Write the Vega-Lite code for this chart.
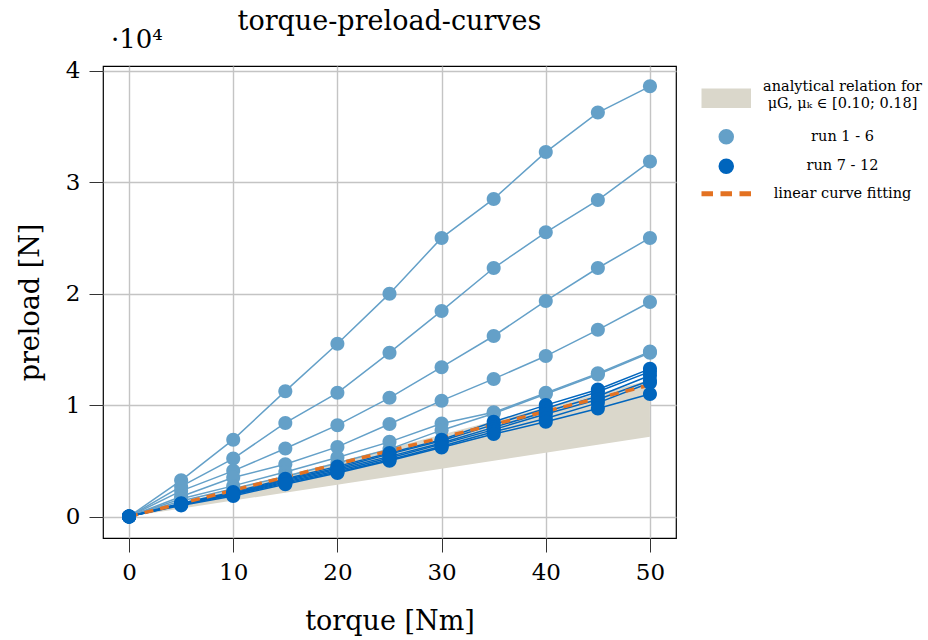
{
  "$schema": "https://vega.github.io/schema/vega-lite/v6.json",
  "width": 573,
  "height": 472,
  "autosize": {"type": "none"},
  "padding": {"left": 103, "top": 66, "right": 252, "bottom": 102},
  "background": "white",
  "title": {"text": "torque-preload-curves", "font": "DejaVu Serif", "fontSize": 27, "fontWeight": "normal", "color": "black", "anchor": "middle", "offset": -9},
  "config": {
    "view": {"stroke": "black", "strokeWidth": 1.2},
    "axis": {"domain": false, "grid": true, "gridColor": "#c4c4c4", "gridWidth": 1.4, "tickColor": "#333333", "tickSize": 14, "tickWidth": 1, "labelFont": "DejaVu Serif", "labelFontSize": 23, "labelColor": "black", "titleFont": "DejaVu Serif", "titleFontSize": 27, "titleFontWeight": "normal", "titleColor": "black"}
  },
  "datasets": {
    "runs": [
      {"run":1,"series":"run 1 - 6","torque":0,"preload":0},{"run":1,"series":"run 1 - 6","torque":5,"preload":3250},{"run":1,"series":"run 1 - 6","torque":10,"preload":6900},{"run":1,"series":"run 1 - 6","torque":15,"preload":11250},{"run":1,"series":"run 1 - 6","torque":20,"preload":15500},{"run":1,"series":"run 1 - 6","torque":25,"preload":20000},{"run":1,"series":"run 1 - 6","torque":30,"preload":25000},{"run":1,"series":"run 1 - 6","torque":35,"preload":28500},{"run":1,"series":"run 1 - 6","torque":40,"preload":32700},{"run":1,"series":"run 1 - 6","torque":45,"preload":36250},{"run":1,"series":"run 1 - 6","torque":50,"preload":38600},
      {"run":2,"series":"run 1 - 6","torque":0,"preload":0},{"run":2,"series":"run 1 - 6","torque":5,"preload":2700},{"run":2,"series":"run 1 - 6","torque":10,"preload":5200},{"run":2,"series":"run 1 - 6","torque":15,"preload":8400},{"run":2,"series":"run 1 - 6","torque":20,"preload":11100},{"run":2,"series":"run 1 - 6","torque":25,"preload":14700},{"run":2,"series":"run 1 - 6","torque":30,"preload":18450},{"run":2,"series":"run 1 - 6","torque":35,"preload":22300},{"run":2,"series":"run 1 - 6","torque":40,"preload":25500},{"run":2,"series":"run 1 - 6","torque":45,"preload":28400},{"run":2,"series":"run 1 - 6","torque":50,"preload":31850},
      {"run":3,"series":"run 1 - 6","torque":0,"preload":0},{"run":3,"series":"run 1 - 6","torque":5,"preload":2300},{"run":3,"series":"run 1 - 6","torque":10,"preload":4100},{"run":3,"series":"run 1 - 6","torque":15,"preload":6100},{"run":3,"series":"run 1 - 6","torque":20,"preload":8200},{"run":3,"series":"run 1 - 6","torque":25,"preload":10650},{"run":3,"series":"run 1 - 6","torque":30,"preload":13400},{"run":3,"series":"run 1 - 6","torque":35,"preload":16200},{"run":3,"series":"run 1 - 6","torque":40,"preload":19350},{"run":3,"series":"run 1 - 6","torque":45,"preload":22300},{"run":3,"series":"run 1 - 6","torque":50,"preload":25000},
      {"run":4,"series":"run 1 - 6","torque":0,"preload":0},{"run":4,"series":"run 1 - 6","torque":5,"preload":1800},{"run":4,"series":"run 1 - 6","torque":10,"preload":3500},{"run":4,"series":"run 1 - 6","torque":15,"preload":4700},{"run":4,"series":"run 1 - 6","torque":20,"preload":6250},{"run":4,"series":"run 1 - 6","torque":25,"preload":8300},{"run":4,"series":"run 1 - 6","torque":30,"preload":10400},{"run":4,"series":"run 1 - 6","torque":35,"preload":12350},{"run":4,"series":"run 1 - 6","torque":40,"preload":14400},{"run":4,"series":"run 1 - 6","torque":45,"preload":16750},{"run":4,"series":"run 1 - 6","torque":50,"preload":19250},
      {"run":5,"series":"run 1 - 6","torque":0,"preload":0},{"run":5,"series":"run 1 - 6","torque":5,"preload":1600},{"run":5,"series":"run 1 - 6","torque":10,"preload":2750},{"run":5,"series":"run 1 - 6","torque":15,"preload":4000},{"run":5,"series":"run 1 - 6","torque":20,"preload":5300},{"run":5,"series":"run 1 - 6","torque":25,"preload":6700},{"run":5,"series":"run 1 - 6","torque":30,"preload":8350},{"run":5,"series":"run 1 - 6","torque":35,"preload":9350},{"run":5,"series":"run 1 - 6","torque":40,"preload":11100},{"run":5,"series":"run 1 - 6","torque":45,"preload":12850},{"run":5,"series":"run 1 - 6","torque":50,"preload":14800},
      {"run":6,"series":"run 1 - 6","torque":0,"preload":0},{"run":6,"series":"run 1 - 6","torque":5,"preload":1400},{"run":6,"series":"run 1 - 6","torque":10,"preload":2500},{"run":6,"series":"run 1 - 6","torque":15,"preload":3600},{"run":6,"series":"run 1 - 6","torque":20,"preload":4800},{"run":6,"series":"run 1 - 6","torque":25,"preload":6050},{"run":6,"series":"run 1 - 6","torque":30,"preload":7750},{"run":6,"series":"run 1 - 6","torque":35,"preload":9250},{"run":6,"series":"run 1 - 6","torque":40,"preload":11000},{"run":6,"series":"run 1 - 6","torque":45,"preload":12750},{"run":6,"series":"run 1 - 6","torque":50,"preload":14700},
      {"run":7,"series":"run 7 - 12","torque":0,"preload":0},{"run":7,"series":"run 7 - 12","torque":5,"preload":1200},{"run":7,"series":"run 7 - 12","torque":10,"preload":2200},{"run":7,"series":"run 7 - 12","torque":15,"preload":3400},{"run":7,"series":"run 7 - 12","torque":20,"preload":4500},{"run":7,"series":"run 7 - 12","torque":25,"preload":5700},{"run":7,"series":"run 7 - 12","torque":30,"preload":6900},{"run":7,"series":"run 7 - 12","torque":35,"preload":8500},{"run":7,"series":"run 7 - 12","torque":40,"preload":10000},{"run":7,"series":"run 7 - 12","torque":45,"preload":11400},{"run":7,"series":"run 7 - 12","torque":50,"preload":13250},
      {"run":8,"series":"run 7 - 12","torque":0,"preload":0},{"run":8,"series":"run 7 - 12","torque":5,"preload":1150},{"run":8,"series":"run 7 - 12","torque":10,"preload":2100},{"run":8,"series":"run 7 - 12","torque":15,"preload":3300},{"run":8,"series":"run 7 - 12","torque":20,"preload":4350},{"run":8,"series":"run 7 - 12","torque":25,"preload":5600},{"run":8,"series":"run 7 - 12","torque":30,"preload":6800},{"run":8,"series":"run 7 - 12","torque":35,"preload":8250},{"run":8,"series":"run 7 - 12","torque":40,"preload":9700},{"run":8,"series":"run 7 - 12","torque":45,"preload":11200},{"run":8,"series":"run 7 - 12","torque":50,"preload":13000},
      {"run":9,"series":"run 7 - 12","torque":0,"preload":0},{"run":9,"series":"run 7 - 12","torque":5,"preload":1100},{"run":9,"series":"run 7 - 12","torque":10,"preload":2050},{"run":9,"series":"run 7 - 12","torque":15,"preload":3200},{"run":9,"series":"run 7 - 12","torque":20,"preload":4250},{"run":9,"series":"run 7 - 12","torque":25,"preload":5400},{"run":9,"series":"run 7 - 12","torque":30,"preload":6600},{"run":9,"series":"run 7 - 12","torque":35,"preload":8000},{"run":9,"series":"run 7 - 12","torque":40,"preload":9400},{"run":9,"series":"run 7 - 12","torque":45,"preload":10800},{"run":9,"series":"run 7 - 12","torque":50,"preload":12650},
      {"run":10,"series":"run 7 - 12","torque":0,"preload":0},{"run":10,"series":"run 7 - 12","torque":5,"preload":1100},{"run":10,"series":"run 7 - 12","torque":10,"preload":2000},{"run":10,"series":"run 7 - 12","torque":15,"preload":3100},{"run":10,"series":"run 7 - 12","torque":20,"preload":4100},{"run":10,"series":"run 7 - 12","torque":25,"preload":5250},{"run":10,"series":"run 7 - 12","torque":30,"preload":6500},{"run":10,"series":"run 7 - 12","torque":35,"preload":7800},{"run":10,"series":"run 7 - 12","torque":40,"preload":9200},{"run":10,"series":"run 7 - 12","torque":45,"preload":10500},{"run":10,"series":"run 7 - 12","torque":50,"preload":12200},
      {"run":11,"series":"run 7 - 12","torque":0,"preload":0},{"run":11,"series":"run 7 - 12","torque":5,"preload":1050},{"run":11,"series":"run 7 - 12","torque":10,"preload":1950},{"run":11,"series":"run 7 - 12","torque":15,"preload":3000},{"run":11,"series":"run 7 - 12","torque":20,"preload":4000},{"run":11,"series":"run 7 - 12","torque":25,"preload":5100},{"run":11,"series":"run 7 - 12","torque":30,"preload":6300},{"run":11,"series":"run 7 - 12","torque":35,"preload":7600},{"run":11,"series":"run 7 - 12","torque":40,"preload":8800},{"run":11,"series":"run 7 - 12","torque":45,"preload":10200},{"run":11,"series":"run 7 - 12","torque":50,"preload":12000},
      {"run":12,"series":"run 7 - 12","torque":0,"preload":0},{"run":12,"series":"run 7 - 12","torque":5,"preload":1000},{"run":12,"series":"run 7 - 12","torque":10,"preload":1850},{"run":12,"series":"run 7 - 12","torque":15,"preload":2900},{"run":12,"series":"run 7 - 12","torque":20,"preload":3900},{"run":12,"series":"run 7 - 12","torque":25,"preload":5000},{"run":12,"series":"run 7 - 12","torque":30,"preload":6200},{"run":12,"series":"run 7 - 12","torque":35,"preload":7400},{"run":12,"series":"run 7 - 12","torque":40,"preload":8500},{"run":12,"series":"run 7 - 12","torque":45,"preload":9700},{"run":12,"series":"run 7 - 12","torque":50,"preload":11000}
    ],
    "band": [
      {"series": "band", "torque": 0, "lo": 0, "hi": 0},
      {"series": "band", "torque": 50, "lo": 7150, "hi": 12250}
    ],
    "fit": [
      {"series": "fit", "torque": 0, "preload": 0},
      {"series": "fit", "torque": 50, "preload": 11800}
    ]
  },
  "layer": [
    {
      "data": {"name": "band"},
      "mark": {"type": "area", "opacity": 1},
      "encoding": {
        "x": {"field": "torque", "type": "quantitative", "scale": {"domain": [-2.5, 52.5], "nice": false, "zero": false},
              "axis": {"values": [0, 10, 20, 30, 40, 50], "title": "torque [Nm]", "labelPadding": 9, "titlePadding": 24}},
        "y": {"field": "lo", "type": "quantitative", "scale": {"domain": [-1925, 40425], "nice": false, "zero": false},
              "axis": {"values": [0, 10000, 20000, 30000, 40000], "labelExpr": "datum.value / 10000", "title": "preload [N]", "labelPadding": 9, "titlePadding": 21}},
        "y2": {"field": "hi"},
        "color": {"field": "series", "type": "nominal",
          "scale": {"domain": ["band", "run 1 - 6", "run 7 - 12", "fit"], "range": ["#DAD7CB", "#64A0C8", "#0065BD", "#E37222"]},
          "legend": {
            "title": null, "orient": "none", "legendX": 596, "legendY": 14,
            "symbolSize": 64, "symbolOffset": 20,
            "labelFont": "DejaVu Serif", "labelFontSize": 14.5, "labelColor": "black", "labelAlign": "center", "labelOffset": 109, "labelLimit": 400,
            "rowPadding": 8.5,
            "labelExpr": "datum.value === 'band' ? ['analytical relation for', 'μG, μₖ ∈ [0.10; 0.18]'] : datum.value === 'fit' ? 'linear curve fitting' : datum.value"
          }
        }
      }
    },
    {
      "data": {"name": "runs"},
      "mark": {"type": "line", "strokeWidth": 1.5},
      "encoding": {
        "x": {"field": "torque", "type": "quantitative"},
        "y": {"field": "preload", "type": "quantitative"},
        "color": {"field": "series", "type": "nominal"},
        "detail": {"field": "run", "type": "nominal"}
      }
    },
    {
      "data": {"name": "fit"},
      "mark": {"type": "line", "strokeWidth": 3.5, "strokeDash": [9, 7]},
      "encoding": {
        "x": {"field": "torque", "type": "quantitative"},
        "y": {"field": "preload", "type": "quantitative"},
        "color": {"field": "series", "type": "nominal"}
      }
    },
    {
      "data": {"name": "runs"},
      "mark": {"type": "point", "filled": true, "size": 64, "opacity": 1},
      "encoding": {
        "x": {"field": "torque", "type": "quantitative"},
        "y": {"field": "preload", "type": "quantitative"},
        "color": {"field": "series", "type": "nominal"},
        "shape": {"field": "series", "type": "nominal",
          "scale": {"domain": ["band", "run 1 - 6", "run 7 - 12", "fit"], "range": ["M-6,0.5H6V5H-6ZM0,6.75L0,6.75", "M1.75,0A1.75,1.75,0,1,1,-1.75,0A1.75,1.75,0,1,1,1.75,0Z", "M1.75,0A1.75,1.75,0,1,1,-1.75,0A1.75,1.75,0,1,1,1.75,0Z", "M-6,-0.44H-3.5V0.44H-6ZM-1.25,-0.44H1.25V0.44H-1.25ZM3.5,-0.44H6V0.44H3.5Z"]},
          "legend": {
            "title": null, "orient": "none", "legendX": 596, "legendY": 14,
            "symbolSize": 64, "symbolOffset": 20,
            "labelFont": "DejaVu Serif", "labelFontSize": 14.5, "labelColor": "black", "labelAlign": "center", "labelOffset": 109, "labelLimit": 400,
            "rowPadding": 8.5,
            "labelExpr": "datum.value === 'band' ? ['analytical relation for', 'μG, μₖ ∈ [0.10; 0.18]'] : datum.value === 'fit' ? 'linear curve fitting' : datum.value"
          }
        }
      }
    },
    {
      "data": {"values": [{}]},
      "mark": {"type": "text", "text": "·10⁴", "font": "DejaVu Serif", "fontSize": 26, "align": "left", "baseline": "alphabetic", "dx": 8, "dy": -18, "color": "black", "clip": false},
      "encoding": {
        "x": {"datum": -2.5, "type": "quantitative"},
        "y": {"datum": 40425, "type": "quantitative"}
      }
    }
  ]
}
